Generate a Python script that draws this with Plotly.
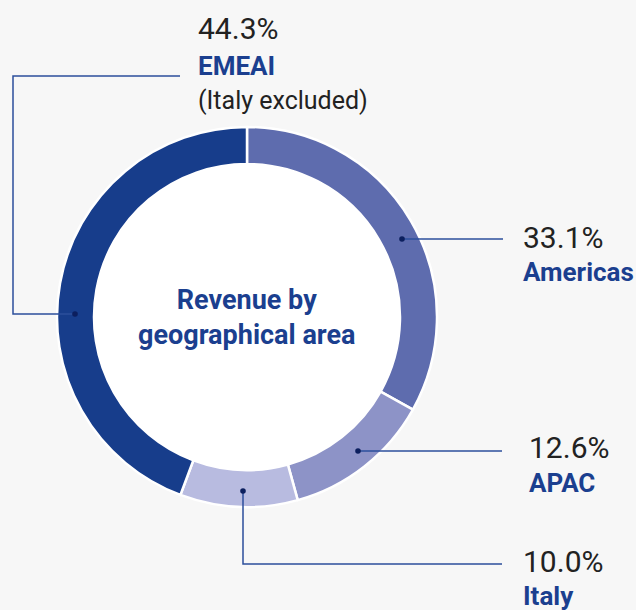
import plotly.graph_objects as go

# ---- data ----
regions = ["Americas", "APAC", "Italy", "EMEAI"]
shares = [33.1, 12.6, 10.0, 44.3]
share_labels = ["33.1%", "12.6%", "10.0%", "44.3%"]
sub_labels = ["", "", "", "(Italy excluded)"]
colors = ["#5e6cae", "#8d93c7", "#b8bbe0", "#173d8b"]
title_text = "Revenue by<br>geographical area"

W, H = 636, 610
CX, CY, R_OUT, R_IN = 247, 317, 190, 153

def px(x):
    return x / W

def py(y):
    return 1 - y / H

fig = go.Figure()
fig.add_trace(go.Pie(
    labels=regions, values=shares, sort=False, direction="clockwise", rotation=0,
    hole=R_IN / R_OUT, marker=dict(colors=colors, line=dict(color="white", width=2.5)),
    textinfo="none", hoverinfo="skip", showlegend=False,
    domain=dict(x=[px(CX - R_OUT), px(CX + R_OUT)], y=[py(CY + R_OUT), py(CY - R_OUT)]),
))

shapes = []
# white hole
shapes.append(dict(type="circle", xref="paper", yref="paper", layer="below",
                   x0=px(CX - R_IN), x1=px(CX + R_IN), y0=py(CY + R_IN), y1=py(CY - R_IN),
                   fillcolor="white", line=dict(width=0)))

line_col = "#2c4f9c"
# leader-line layout (pixel geometry of the annotation callouts)
leaders = {
    "Americas": [(402, 239), (503, 239)],
    "APAC": [(358, 451), (502, 451)],
    "Italy": [(243, 491), (243, 564), (502, 564)],
    "EMEAI": [(75, 314), (13, 314), (13, 76), (180, 76)],
}
for name, pts in leaders.items():
    path = "M " + " L ".join(f"{px(x)},{py(y)}" for x, y in pts)
    shapes.append(dict(type="path", xref="paper", yref="paper", path=path,
                       line=dict(color=line_col, width=1.5)))
    dx, dy = pts[0]
    r = 2.8
    shapes.append(dict(type="circle", xref="paper", yref="paper",
                       x0=px(dx - r), x1=px(dx + r), y0=py(dy + r), y1=py(dy - r),
                       fillcolor="#0c1f5e", line=dict(width=0)))

label_pos = {
    "Americas": (521, 237, 272),
    "APAC": (527, 447, 483),
    "Italy": (521, 561, 596),
    "EMEAI": (196, 29, 66),
}
annotations = []
FONT = "Roboto"
for name, pct, sub in zip(regions, share_labels, sub_labels):
    x, ypct, yname = label_pos[name]
    annotations.append(dict(x=px(x), y=py(ypct), xref="paper", yref="paper", text=pct,
                            showarrow=False, xanchor="left", yanchor="middle",
                            font=dict(family=FONT, size=30, color="#222222")))
    annotations.append(dict(x=px(x), y=py(yname), xref="paper", yref="paper", text=f"<b>{name}</b>",
                            showarrow=False, xanchor="left", yanchor="middle",
                            font=dict(family=FONT, size=26, color="#1b3f8f")))
    if sub:
        annotations.append(dict(x=px(x), y=py(yname + 35), xref="paper", yref="paper", text=sub,
                                showarrow=False, xanchor="left", yanchor="middle",
                                font=dict(family=FONT, size=25, color="#222222")))

annotations.append(dict(x=px(CX), y=py(CY), xref="paper", yref="paper", text=f"<b>{title_text}</b>",
                        showarrow=False, xanchor="center", yanchor="middle", align="center",
                        font=dict(family=FONT, size=27, color="#1b3f8f")))

fig.update_layout(
    width=W, height=H, margin=dict(l=0, r=0, t=0, b=0),
    paper_bgcolor="#f7f7f7", plot_bgcolor="#f7f7f7",
    shapes=shapes, annotations=annotations,
)
fig.write_html("out.html", config={"displayModeBar": False},
               post_script="document.body.style.margin='0';document.body.style.padding='0';document.body.style.background='#f7f7f7';")
